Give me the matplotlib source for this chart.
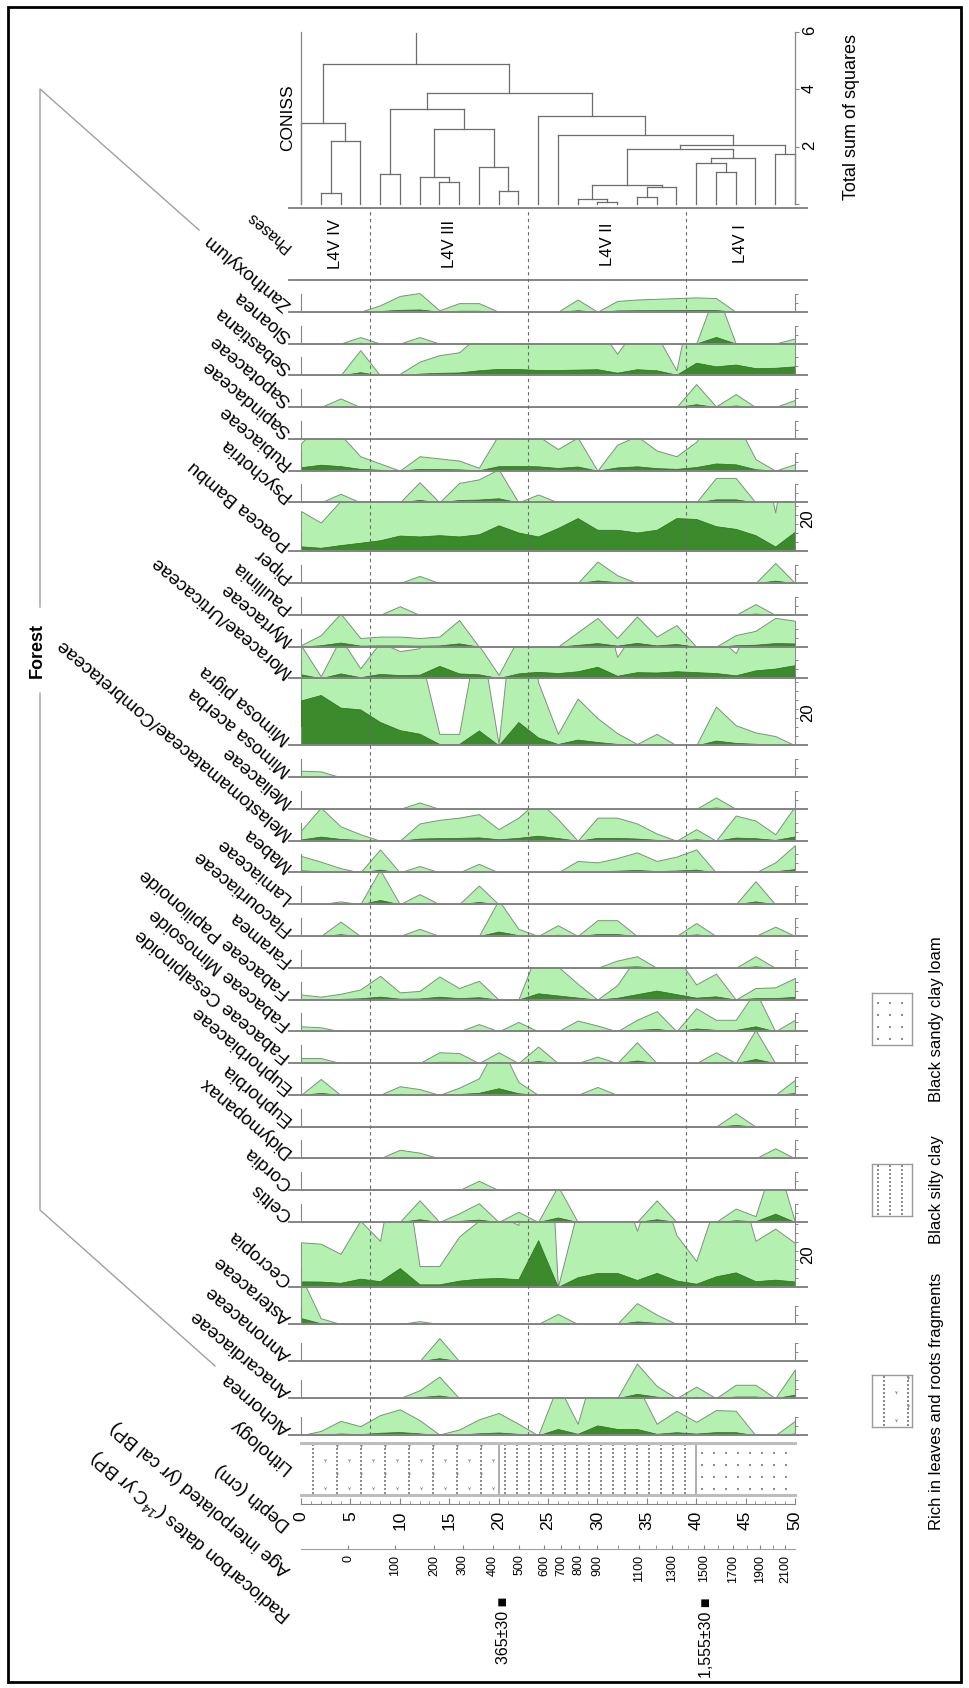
import numpy as np
import matplotlib.pyplot as plt
from matplotlib.patches import Rectangle
from matplotlib.lines import Line2D
from matplotlib.transforms import blended_transform_factory

plt.rcParams['font.family'] = ['Liberation Sans', 'DejaVu Sans']
plt.rcParams['mathtext.fontset'] = 'custom'
plt.rcParams['mathtext.rm'] = 'Liberation Sans'

# samples every 2 cm
depth = np.arange(0, 51, 2)

# pollen percentages, one value per sample (0 ... 50 cm)
zanthoxylum = [0, 0, 0, 0, .45, 1.1, 1.3, .1, .6, .6, 0, 0, 0, 0, .85, 0, .75, .85, .9, .95, 1.0, .95, 0, 0, 0, 0]
sloanea = [0, 0, 0, .45, 0, 0, .45, 0, 0, 0, 0, 0, 0, 0, 0, 0, 0, 0, 0, 0, 0, 3.7, 0, 0, 0, .35]
sebastiana = [0, 0, 0, 1.75, 0, .1, .95, 1.4, 1.6, 2.8, 3.6, 3.5, 3.0, 3.0, 3.2, 3.4, 1.5, 3.4, 2.8, .35, 7.0, 5.0, 6.0, 4.0, 4.2, 5.0]
sapotaceae = [0, 0, .6, 0, 0, 0, 0, 0, 0, 0, 0, 0, 0, 0, 0, 0, 0, 0, 0, 0, 1.6, .05, .9, 0, 0, .5]
sapindaceae = [0, 0, 0, 0, 0, 0, 0, 0, 0, 0, 0, 0, 0, 0, 0, 0, 0, 0, 0, 0, 0, 0, 0, 0, 0, 0]
rubiaceae = [1.9, 3.3, 2.5, 1.0, .5, 0, 1.0, .85, .7, .2, 2.5, 2.6, 2.4, 1.5, 2.3, 0, 1.8, 2.4, 1.4, 1.0, 2.0, 4.0, 3.5, .8, 0, .45]
psychotria = [0, 0, .6, 0, 0, 0, 1.4, 0, 1.35, 1.6, 2.3, 0, .55, 0, 0, 0, 0, 0, 0, 0, 0, 1.7, 1.7, 0, 0, .1]
poacea = [2.8, 2.0, 3.5, 4.8, 6.2, 8.8, 8.3, 9.0, 8.3, 9.5, 14.5, 10.5, 8.3, 13, 18.5, 12, 12, 10.5, 12, 18.5, 18, 14, 12.5, 9, 2.7, 11]
piper = [0, 0, 0, 0, 0, 0, .5, 0, 0, 0, 0, 0, 0, 0, 0, 1.5, .55, 0, 0, 0, 0, 0, 0, 0, 1.4, 0]
paullinia = [0, 0, 0, 0, 0, .6, 0, 0, 0, 0, 0, 0, 0, 0, 0, 0, 0, 0, 0, 0, 0, 0, 0, .75, 0, 0]
myrtaceae = [.1, .8, 2.3, .6, .7, .7, .6, .7, 1.85, 0, 0, 0, 0, 0, 1.0, 2.0, .6, 2.1, .7, 1.5, 0, 0, .8, 1.1, 2.0, 1.8]
moraceae = [2.3, .15, 2.8, .7, 2.5, 1.9, 2.1, 7.0, 2.8, 2.3, .25, 2.8, 3.7, 3.0, 4.0, 6.5, 1.5, 3.5, 3.3, 4.0, 3.5, 3.0, 1.75, 4.5, 5.5, 7.4]
mimosa_pigra = [25, 28, 21, 20, 13, 8.5, 6.5, .8, .8, 8.3, .1, 13, 4.4, .8, 3.25, 1.9, .85, .1, .8, 0, 0, 2.7, 1.4, .9, .65, 0]
mimosa_acerba = [.45, .4, 0, 0, 0, 0, 0, 0, 0, 0, 0, 0, 0, 0, 0, 0, 0, 0, 0, 0, 0, 0, 0, 0, 0, 0]
meliaceae = [0, 0, 0, 0, 0, 0, .45, 0, 0, 0, 0, 0, 0, 0, 0, 0, 0, 0, 0, 0, 0, .8, 0, 0, 0, 0]
melastomataceae = [.7, 2.3, 1.0, .45, 0, 0, 1.2, 1.45, 1.6, 1.85, .8, 1.6, 2.8, 1.5, 0, 1.6, 1.6, 1.2, .5, 0, .8, 0, 1.75, 1.4, .45, 2.4]
mabea = [1.15, .75, .3, 0, 1.6, 0, .45, 0, 0, .6, 0, 0, 0, 0, .8, .7, 1.0, 1.4, .8, 1.1, 1.6, 0, 0, 0, .7, 1.9]
lamiaceae = [0, 0, .2, 0, 2.4, 0, .7, 0, 0, 1.3, 0, 0, 0, 0, 0, 0, 0, 0, 0, 0, 0, 0, 0, 1.6, 0, 0]
flacourtiaceae = [0, 0, 1.0, 0, 0, 0, .5, 0, 0, 0, 2.5, .5, 0, .75, 0, 1.1, 1.1, 0, 0, 0, .9, 0, 0, 0, .65, 0]
faramea = [0, 0, 0, 0, 0, 0, 0, 0, 0, 0, 0, 0, 0, 0, 0, 0, .5, .8, 0, 0, 0, 0, 0, .8, 0, 0]
fab_papilionoide = [.35, .2, .4, .7, 1.65, .5, .6, 1.6, .8, 1.3, 0, 0, 3.5, 2.3, 1.1, 0, 1.0, 3.0, 5.0, 3.0, 1.05, 1.8, 0, .8, .85, 1.5]
fab_mimosoide = [.35, .28, 0, 0, 0, 0, 0, 0, 0, .5, 0, .65, 0, 0, .75, .4, 0, .8, 1.4, 0, 1.6, .8, .8, 2.8, 0, .8]
fab_cesalpinoide = [.35, .35, 0, 0, 0, 0, 0, .75, .7, 0, .75, 0, 1.15, 0, 0, .45, 0, 1.45, 0, 0, 0, .75, 0, 2.3, 0, 0]
euphorbiaceae = [0, 1.1, 0, 0, 0, .6, .4, 0, .5, 1.15, 3.7, .9, 0, 0, 0, .55, 0, 0, 0, 0, 0, 0, 0, 0, 0, 1.05]
euphorbia = [0, 0, 0, 0, 0, 0, 0, 0, 0, 0, 0, 0, 0, 0, 0, 0, 0, 0, 0, 0, 0, 0, .93, 0, 0, 0]
didymopanax = [0, 0, 0, 0, 0, .6, .4, 0, 0, 0, 0, 0, 0, 0, 0, 0, 0, 0, 0, 0, 0, 0, 0, 0, .7, 0]
cordia = [0, 0, 0, 0, 0, 0, 0, 0, 0, .65, 0, 0, 0, 0, 0, 0, 0, 0, 0, 0, 0, 0, 0, 0, 0, 0]
celtis = [0, 0, 0, 0, 0, 0, 1.5, 0, .6, 1.3, 0, .7, 0, 2.5, 0, 0, 0, 0, 1.5, 0, 0, 0, .93, .4, 4.6, 0]
cecropia = [3.1, 3.0, 2.3, 4.6, 3.2, 10.5, 1.45, 1.45, 3.5, 4.6, 5.0, 4.3, 26, 0, 5.4, 7.8, 7.8, 3.9, 7.8, 3.6, 1.8, 5.9, 8.1, 3.2, 4.05, 3.05]
asteraceae = [3.3, .4, 0, 0, 0, 0, .2, 0, 0, 0, 0, 0, 0, .7, 0, 0, 0, 1.45, .65, 0, 0, 0, 0, 0, 0, 0]
annonaceae = [0, 0, 0, 0, 0, 0, 0, 1.6, 0, 0, 0, 0, 0, 0, 0, 0, 0, 0, 0, 0, 0, 0, 0, 0, 0, 0]
anacardiaceae = [0, 0, 0, 0, 0, 0, .55, 1.5, 0, 0, 0, 0, 0, 0, 0, 0, 0, 2.4, .85, 0, .8, 0, .93, .93, 0, 2.0]
alchornea = [0, .3, 1.0, .63, 1.4, 1.8, 1.05, .05, .4, 1.1, 1.55, .8, 0, 3.5, .8, 5.5, 3.5, 3.5, .8, 1.7, .93, 1.75, 1.7, 0, 0, 1.0]

TAXA = ['Zanthoxylum', 'Sloanea', 'Sebastiana', 'Sapotaceae', 'Sapindaceae', 'Rubiaceae',
        'Psychotria', 'Poacea Bambu', 'Piper', 'Paullinia', 'Myrtaceae', 'Moraceae/Urticaceae',
        'Mimosa pigra', 'Mimosa acerba', 'Meliaceae', 'Melastomamataceae/Combretaceae', 'Mabea',
        'Lamiaceae', 'Flacourtiaceae', 'Faramea', 'Fabaceae Papilionoide', 'Fabaceae Mimosoide',
        'Fabaceae Cesalpinoide', 'Euphorbiaceae', 'Euphorbia', 'Didymopanax', 'Cordia', 'Celtis',
        'Cecropia', 'Asteraceae', 'Annonaceae', 'Anacardiaceae', 'Alchornea']
VALUES = [zanthoxylum, sloanea, sebastiana, sapotaceae, sapindaceae, rubiaceae, psychotria, poacea,
          piper, paullinia, myrtaceae, moraceae, mimosa_pigra, mimosa_acerba, meliaceae,
          melastomataceae, mabea, lamiaceae, flacourtiaceae, faramea, fab_papilionoide,
          fab_mimosoide, fab_cesalpinoide, euphorbiaceae, euphorbia, didymopanax, cordia, celtis,
          cecropia, asteraceae, annonaceae, anacardiaceae, alchornea]

# CONISS merges: child a, child b (leaves 0-25 are the samples, then new nodes), height
coniss_a = [1, 26, 0, 4, 7, 6, 10, 9, 31, 29, 15, 14, 17, 38, 37, 21, 20, 42, 40, 24, 44, 13, 12, 35, 28]
coniss_b = [2, 3, 27, 5, 8, 30, 11, 32, 33, 34, 16, 36, 18, 19, 39, 22, 41, 23, 43, 25, 45, 46, 47, 48, 49]
coniss_h = [.39, 2.2, 2.84, 1.06, .77, .94, .46, 1.29, 2.63, 3.33, .08, .16, .25, .6, .66, 1.1, 1.44,
            1.6, 1.92, 1.75, 2.07, 2.4, 3.07, 3.87, 4.87]
CONISS_TOP = 5.95

PHASES = ['L4V IV', 'L4V III', 'L4V II', 'L4V I']
PHASE_BOUNDS = [7, 23, 39]

LITH_UNITS = ['Rich in leaves and roots fragments', 'Black silty clay', 'Black sandy clay loam']
LITH_TOP = [0, 20, 40]
LITH_BOT = [20, 40, 50]

AGE_TICKS = [0, 100, 200, 300, 400, 500, 600, 700, 800, 900, 1100, 1300, 1500, 1700, 1900, 2100]
AGE_DEPTH = [4.8, 9.5, 13.5, 16.4, 19.4, 22.1, 24.6, 26.3, 28.1, 30.0, 34.2, 37.6, 40.8, 43.7, 46.5, 49.0]

RC_DATES = ['365±30', '1,555±30']
RC_DEPTH = [20.5, 41.0]

# ---- layout (pixels) and styles ----
W, H = 969, 1688
X0, X1 = 301, 795          # depth 0 and 50 cm
CM = (X1 - X0) / 50.0
PAD = 1.2                  # baselines run a little past the core ends
PX_PER_PCT = 1.8
EXAG = 8
SMALL, LOW = 17.65, 20.6
COL_MAX = [SMALL] * 7 + [27.2] + [SMALL] * 4 + [37.2] + [SMALL] * 15 + [36.1] + [LOW] * 4

LIGHT, LIGHT_EDGE = '#b4f0b0', '#7d917d'
DARK, DARK_EDGE = '#3b8a2c', '#2e6e22'
GRAY = '#858585'
DEND = '#6c6c6c'
PAT = '#8c8c8c'
# sediment symbols: column spacing px, dot spacing px, v-marks
LITH_STYLE = [(24, 4, True), (12, 4, False), (12, 12, False)]
LEGEND_Y = [1401, 1190, 1019]

fig = plt.figure(figsize=(W / 100, H / 100), dpi=100)


def fx(x):
    return x / W


def fy(y):
    return 1 - y / H


def depth_axes(y_top, y_bot, zorder=0):
    ax = fig.add_axes([fx(X0 - PAD * CM), fy(y_bot), (X1 - X0 + 2 * PAD * CM) / W,
                       (y_bot - y_top) / H], zorder=zorder)
    ax.set_xlim(-PAD, 50 + PAD)
    ax.patch.set_visible(False)
    ax.set_xticks([])
    ax.set_yticks([])
    for s in ax.spines.values():
        s.set_visible(False)
    return ax


def row_label(y, text, size=13.5):
    fig.text(fx(289), fy(y), text, rotation=140, rotation_mode='anchor',
             ha='left', va='center', fontsize=size)


def sediment(ax, x0, x1, px_x, px_y, style, transform):
    """dot columns (and little v's) for one sediment unit; px_x/px_y = pixels per unit"""
    col, step, vmarks = style
    xs = np.arange(x0 + col / 2 / px_x, x1, col / px_x)
    ys = np.arange(step / 2 / px_y, 1, step / px_y)
    gx, gy = np.meshgrid(xs, ys)
    ax.scatter(gx.ravel(), gy.ravel(), s=0.9, marker='s', color=PAT, lw=0, transform=transform)
    if vmarks:
        vx = np.arange(x0 + col / px_x, x1 - 0.1 * col / px_x, col / px_x)
        for k, yy in enumerate(np.arange(7 / px_y, 1, 14 / px_y)):
            sx = vx + (col / 2 / px_x if k % 2 else 0)
            sx = sx[sx < x1]
            ax.scatter(sx, np.full(sx.size, yy), s=7, marker='1', color=PAT, lw=0.6,
                       transform=transform)


# CONISS dendrogram
ax_c = depth_axes(28, 208)
ax_c.set_ylim(-0.14, 6.14)
node_x = list(depth.astype(float))
node_h = [0.0] * len(depth)
for a, b, h in zip(coniss_a, coniss_b, coniss_h):
    for c in (a, b):
        ax_c.plot([node_x[c], node_x[c]], [node_h[c], h], color=DEND, lw=0.9)
    ax_c.plot([node_x[a], node_x[b]], [h, h], color=DEND, lw=0.9)
    node_x.append((node_x[a] + node_x[b]) / 2)
    node_h.append(h)
ax_c.plot([node_x[-1]] * 2, [node_h[-1], CONISS_TOP], color=DEND, lw=0.9)
for side, pos in (('left', 0), ('right', 50)):
    sp = ax_c.spines[side]
    sp.set_visible(True)
    sp.set_position(('data', pos))
    sp.set_bounds(0, 6)
    sp.set_color(GRAY)
    sp.set_linewidth(0.9)
ax_c.yaxis.set_ticks_position('right')
ax_c.set_yticks([0, 2, 4, 6], ['', '2', '4', '6'])
ax_c.tick_params(axis='y', direction='out', length=3, color=GRAY, labelsize=12,
                 labelrotation=90, pad=2)
fig.text(fx(288), fy(118), 'CONISS', rotation=90, ha='center', va='center', fontsize=12.5)
fig.text(fx(852), fy(117), 'Total sum of squares', rotation=90, ha='center', va='center',
         fontsize=13)

# phases
ax_p = depth_axes(208, 280)
ax_p.set_ylim(0, 1)
for s in ('top', 'bottom'):
    ax_p.spines[s].set_visible(True)
    ax_p.spines[s].set_color(GRAY)
    ax_p.spines[s].set_linewidth(1.4)
edges = np.r_[0, PHASE_BOUNDS, 50]
for m, lab in zip((edges[:-1] + edges[1:]) / 2, PHASES):
    ax_p.text(m, 0.5, lab, rotation=90, ha='center', va='center', fontsize=12)
row_label(248, 'Phases', size=11.5)

# pollen strips, light = exaggerated curve
y = 280
bases = []
for i, (name, vals, top) in enumerate(zip(TAXA, VALUES, COL_MAX)):
    h = top * PX_PER_PCT
    ax = depth_axes(y, y + h, zorder=-i)
    ax.set_ylim(0, top)
    v = np.asarray(vals, dtype=float)
    ax.fill_between(depth, 0, v * EXAG, facecolor=LIGHT, edgecolor=LIGHT_EDGE, lw=0.7)
    ax.fill_between(depth, 0, v, facecolor=DARK, edgecolor=DARK_EDGE, lw=0.5)
    ax.spines['bottom'].set_visible(True)
    ax.spines['bottom'].set_color(GRAY)
    ax.spines['bottom'].set_linewidth(1.4)
    bar_top = 10 if top < 25 else top
    for side, pos, btop in (('left', 0, 10), ('right', 50, bar_top)):
        sp = ax.spines[side]
        sp.set_visible(True)
        sp.set_position(('data', pos))
        sp.set_bounds(0, btop)
        sp.set_color(GRAY)
        sp.set_linewidth(0.8)
    ax.yaxis.set_ticks_position('right')
    ticks = np.arange(0, bar_top + 0.01, 5)
    ax.set_yticks(ticks, ['20' if t == 20 else '' for t in ticks])
    ax.tick_params(axis='y', direction='out', length=2.5, width=0.7, color=GRAY,
                   labelsize=12, labelrotation=90, pad=1.5)
    y += h
    bases.append(y)
    row_label(y - 5, name)

# zone boundaries across the diagram
ax_o = depth_axes(208, bases[-1], zorder=5)
ax_o.set_ylim(0, 1)
for b in PHASE_BOUNDS:
    ax_o.axvline(b, color='#6a6a6a', lw=0.8, ls=(0, (3, 3)))

# lithology column
ax_l = depth_axes(1443, 1495)
ax_l.set_ylim(0, 1)
for t, b, style in zip(LITH_TOP, LITH_BOT, LITH_STYLE):
    sediment(ax_l, t, b, CM, 52, style, ax_l.transData)
ax_l.vlines(LITH_BOT[:-1], 0, 1, color='#a0a0a0', lw=1.2)
for s in ('top', 'bottom'):
    ax_l.spines[s].set_visible(True)
    ax_l.spines[s].set_bounds(0, 50)
    ax_l.spines[s].set_color('#bdbdbd')
    ax_l.spines[s].set_linewidth(2.2)
row_label(1470, 'Lithology')

# depth scale
ax_d = depth_axes(1500, 1504)
ax_d.spines['bottom'].set_visible(True)
ax_d.spines['bottom'].set_bounds(0, 50)
ax_d.spines['bottom'].set_color(GRAY)
ax_d.set_xticks(np.arange(0, 51, 5))
ax_d.set_xticks(np.arange(0, 51, 1), minor=True)
ax_d.tick_params(axis='x', which='major', direction='in', length=4, color=GRAY,
                 labelsize=12.5, labelrotation=90, pad=5)
ax_d.tick_params(axis='x', which='minor', direction='in', length=2, color=GRAY)
row_label(1527, 'Depth (cm)')

# interpolated ages
ax_a = depth_axes(1545, 1549)
ax_a.spines['bottom'].set_visible(True)
ax_a.spines['bottom'].set_bounds(0, 50)
ax_a.spines['bottom'].set_color('#a0a0a0')
ax_a.set_xticks(AGE_DEPTH, [str(a) for a in AGE_TICKS])
ax_a.set_xticks(np.interp(np.arange(0, 2101, 100), AGE_TICKS, AGE_DEPTH), minor=True)
ax_a.tick_params(axis='x', which='major', direction='in', length=3, color=GRAY,
                 labelsize=9, labelrotation=90, pad=4)
ax_a.tick_params(axis='x', which='minor', direction='in', length=3, color=GRAY)
row_label(1572, 'Age interpolated (yr cal BP)')

# radiocarbon dates
rc_tr = blended_transform_factory(ax_a.transData, fig.transFigure)
for d, lab in zip(RC_DEPTH, RC_DATES):
    ax_a.text(d, fy(1597), lab + ' \u25a0', transform=rc_tr, rotation=90,
              ha='center', va='top', fontsize=11.5)
row_label(1618, r'Radiocarbon dates ($^{14}$C yr BP)')

# lithology legend
for lab, cy, style in zip(LITH_UNITS, LEGEND_Y, LITH_STYLE):
    lax = fig.add_axes([fx(872), fy(cy + 26), 40 / W, 52 / H])
    lax.set_xticks([])
    lax.set_yticks([])
    lax.set_xlim(0, 1)
    lax.set_ylim(0, 1)
    sediment(lax, 0, 1, 40, 52, style, lax.transData)
    for s in lax.spines.values():
        s.set_color('#9a9a9a')
        s.set_linewidth(1.0)
    fig.text(fx(937), fy(cy), lab, rotation=90, ha='center', va='center', fontsize=12)

# Forest group bracket
bracket_kw = dict(transform=fig.transFigure, color='#a0a0a0', lw=1.0)
fig.add_artist(Line2D([fx(199), fx(40), fx(40)], [fy(230), fy(89), fy(607)], **bracket_kw))
fig.add_artist(Line2D([fx(40), fx(40), fx(215)], [fy(693), fy(1210), fy(1366)], **bracket_kw))
fig.text(fx(37), fy(650), 'Forest', rotation=90, ha='center', va='center', fontsize=13,
         fontweight='bold')

# page frame
fig.add_artist(Rectangle((fx(8), fy(1682)), (961 - 8) / W, (1682 - 7) / H,
                         transform=fig.transFigure, fill=False, ec='black', lw=2))

fig.savefig('out.png', dpi=100)
